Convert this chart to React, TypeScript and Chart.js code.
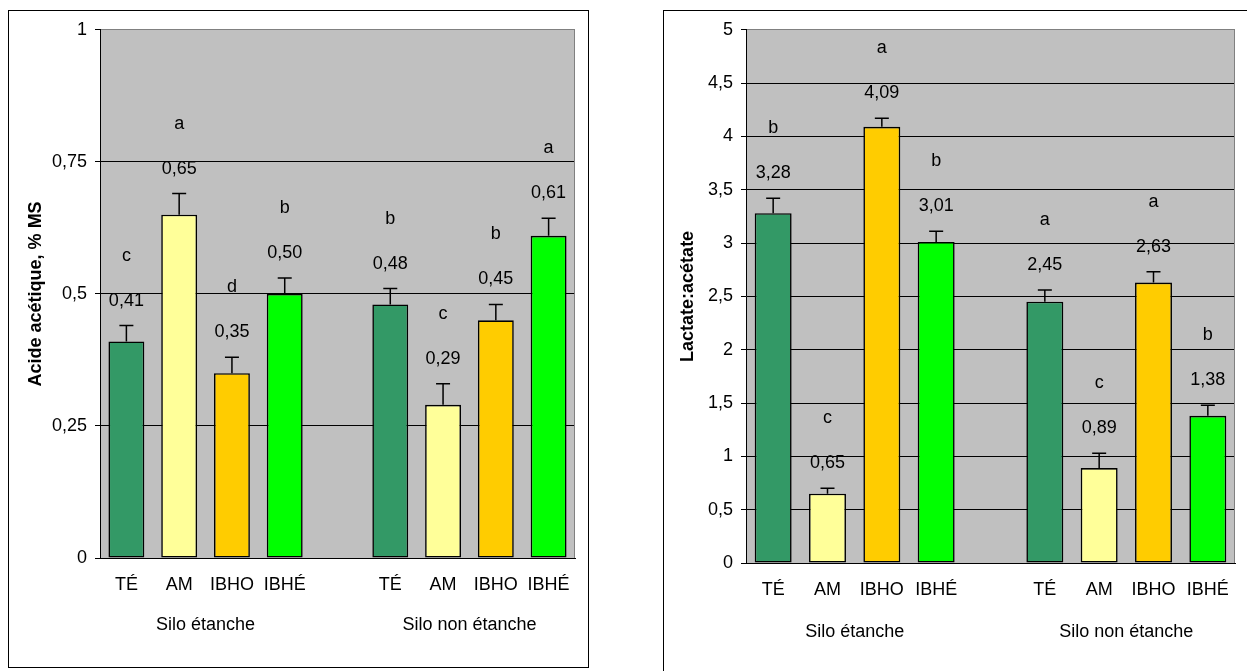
import React, { useEffect, useRef } from 'react';
import { Chart, registerables } from 'chart.js';

Chart.register(...registerables);

// ---------- data ----------
const categories = ['TÉ', 'AM', 'IBHO', 'IBHÉ'];
const groupLabels = ['Silo étanche', 'Silo non étanche'];
const barColors = ['#339966', '#FFFF99', '#FFCC00', '#00FF00'];

const aceticEtanche = [0.41, 0.65, 0.35, 0.5];
const aceticNonEtanche = [0.48, 0.29, 0.45, 0.61];
const aceticErrEtanche = [0.03, 0.04, 0.03, 0.03];
const aceticErrNonEtanche = [0.03, 0.04, 0.03, 0.033];
const aceticLettersEtanche = ['c', 'a', 'd', 'b'];
const aceticLettersNonEtanche = ['b', 'c', 'b', 'a'];
const aceticTicks = [0, 0.25, 0.5, 0.75, 1];

const ratioEtanche = [3.28, 0.65, 4.09, 3.01];
const ratioNonEtanche = [2.45, 0.89, 2.63, 1.38];
const ratioErrEtanche = [0.14, 0.05, 0.08, 0.1];
const ratioErrNonEtanche = [0.11, 0.14, 0.1, 0.1];
const ratioLettersEtanche = ['b', 'c', 'a', 'b'];
const ratioLettersNonEtanche = ['a', 'c', 'a', 'b'];
const ratioTicks = [0, 0.5, 1, 1.5, 2, 2.5, 3, 3.5, 4, 4.5, 5];

// ---------- styling ----------
const FONT_FAMILY = '"Liberation Sans", Arial, Helvetica, sans-serif';
const FONT_SIZE = 18;

type ChartCfg = {
  etanche: number[];
  nonEtanche: number[];
  errEtanche: number[];
  errNonEtanche: number[];
  lettersEtanche: string[];
  lettersNonEtanche: string[];
  ticks: number[];
  title: string;
  titlePad: number;
  yAxisWidth: number;
  xAxisHeight: number;
  padTop: number;
  padRight: number;
  groupOffset: number;
};

const fmt = (v: number, digits?: number) =>
  (digits === undefined ? String(v) : v.toFixed(digits)).replace('.', ',');

function buildConfig(cfg: ChartCfg): any {
  const labels = [...categories, '', ...categories];
  const values = [...cfg.etanche, null, ...cfg.nonEtanche];
  const errs = [...cfg.errEtanche, null, ...cfg.errNonEtanche];
  const letters = [...cfg.lettersEtanche, '', ...cfg.lettersNonEtanche];
  const colors = [...barColors, 'rgba(0,0,0,0)', ...barColors];
  const yMin = cfg.ticks[0];
  const yMax = cfg.ticks[cfg.ticks.length - 1];

  const plugin = {
    id: 'decor',
    beforeDraw(chart: any) {
      const { ctx, chartArea: a } = chart;
      ctx.save();
      ctx.fillStyle = '#C0C0C0';
      ctx.fillRect(a.left, a.top, a.right - a.left, a.bottom - a.top);
      ctx.restore();
    },
    afterDraw(chart: any) {
      const { ctx, chartArea: a } = chart;
      const yScale = chart.scales.y;
      const xScale = chart.scales.x;
      // plot area border (right)
      ctx.save();
      ctx.strokeStyle = '#808080';
      ctx.lineWidth = 1;
      ctx.beginPath();
      ctx.moveTo(Math.round(a.right) - 0.5, a.top);
      ctx.lineTo(Math.round(a.right) - 0.5, a.bottom);
      ctx.stroke();
      ctx.restore();

      const meta = chart.getDatasetMeta(0);
      ctx.save();
      ctx.font = `${FONT_SIZE}px ${FONT_FAMILY}`;
      ctx.fillStyle = '#000';
      ctx.textAlign = 'center';
      ctx.textBaseline = 'middle';
      meta.data.forEach((bar: any, i: number) => {
        const v = values[i];
        const e = errs[i];
        if (v === null || e === null) return;
        const x = bar.x;
        const yTop = yScale.getPixelForValue(v);
        const yCap = yScale.getPixelForValue(v + e);
        ctx.strokeStyle = '#000';
        ctx.lineWidth = 1.5;
        ctx.beginPath();
        ctx.moveTo(x, yTop);
        ctx.lineTo(x, yCap);
        ctx.moveTo(x - 7, yCap);
        ctx.lineTo(x + 7, yCap);
        ctx.stroke();
        const yVal = yCap - 25;
        ctx.fillText(fmt(v, 2), x, yVal);
        ctx.fillText(letters[i], x, yVal - 45);
      });
      // group labels
      const g1 = xScale.getPixelForValue(1.5);
      const g2 = xScale.getPixelForValue(6.5);
      ctx.fillText(groupLabels[0], g1, a.bottom + cfg.groupOffset);
      ctx.fillText(groupLabels[1], g2, a.bottom + cfg.groupOffset);
      ctx.restore();
    },
  };

  return {
    type: 'bar',
    data: {
      labels,
      datasets: [
        {
          data: values,
          backgroundColor: colors,
          borderColor: '#000',
          borderWidth: 1.6,
          borderSkipped: false,
          barPercentage: 0.68,
          categoryPercentage: 1,
        },
      ],
    },
    options: {
      responsive: false,
      animation: false,
      devicePixelRatio: 1,
      layout: { padding: { left: 0, top: cfg.padTop, right: cfg.padRight, bottom: 0 } },
      plugins: { legend: { display: false }, tooltip: { enabled: false } },
      scales: {
        x: {
          offset: true,
          grid: { display: false },
          border: { display: true, color: '#000', width: 1 },
          ticks: {
            color: '#000',
            font: { family: FONT_FAMILY, size: FONT_SIZE },
            padding: 8,
            maxRotation: 0,
            autoSkip: false,
          },
          afterFit: (s: any) => {
            s.height = cfg.xAxisHeight;
          },
        },
        y: {
          min: yMin,
          max: yMax,
          grid: {
            color: (c: any) => (c.tick && c.tick.value === yMax ? '#808080' : '#000'),
            tickColor: '#000',
            tickLength: 5,
            lineWidth: 1,
          },
          border: { display: true, color: '#000', width: 1 },
          ticks: {
            color: '#000',
            font: { family: FONT_FAMILY, size: FONT_SIZE },
            padding: 8,
            callback: (v: any) => fmt(Number(v)),
          },
          afterBuildTicks: (s: any) => {
            s.ticks = cfg.ticks.map((v) => ({ value: v }));
          },
          afterFit: (s: any) => {
            s.width = cfg.yAxisWidth;
          },
          title: {
            display: true,
            text: cfg.title,
            color: '#000',
            font: { family: FONT_FAMILY, size: FONT_SIZE, weight: 'bold' },
            padding: { top: cfg.titlePad, bottom: 0 },
          },
        },
      },
    },
    plugins: [plugin],
  };
}

function BarChart({ cfg, width, height }: { cfg: ChartCfg; width: number; height: number }) {
  const ref = useRef<HTMLCanvasElement>(null);
  useEffect(() => {
    const chart = new Chart(ref.current as HTMLCanvasElement, buildConfig(cfg));
    return () => chart.destroy();
  }, []);
  return (
    <canvas
      ref={ref}
      width={width}
      height={height}
      style={{ position: 'absolute', left: 0, top: 0, width, height }}
    />
  );
}

const leftCfg: ChartCfg = {
  etanche: aceticEtanche,
  nonEtanche: aceticNonEtanche,
  errEtanche: aceticErrEtanche,
  errNonEtanche: aceticErrNonEtanche,
  lettersEtanche: aceticLettersEtanche,
  lettersNonEtanche: aceticLettersNonEtanche,
  ticks: aceticTicks,
  title: 'Acide acétique, % MS',
  titlePad: 16,
  yAxisWidth: 91,
  xAxisHeight: 109,
  padTop: 16,
  padRight: 13,
  groupOffset: 67,
};

const rightCfg: ChartCfg = {
  etanche: ratioEtanche,
  nonEtanche: ratioNonEtanche,
  errEtanche: ratioErrEtanche,
  errNonEtanche: ratioErrNonEtanche,
  lettersEtanche: ratioLettersEtanche,
  lettersNonEtanche: ratioLettersNonEtanche,
  ticks: ratioTicks,
  title: 'Lactate:acétate',
  titlePad: 13,
  yAxisWidth: 82,
  xAxisHeight: 108,
  padTop: 16,
  padRight: 13,
  groupOffset: 69,
};

export default function App() {
  return (
    <div
      style={{
        position: 'absolute',
        left: 0,
        top: 0,
        width: 1247,
        height: 671,
        overflow: 'hidden',
        background: '#fff',
      }}
    >
      <div
        style={{
          position: 'absolute',
          left: 8,
          top: 10,
          width: 581,
          height: 658,
          boxSizing: 'border-box',
          border: '1px solid #000',
        }}
      >
        <BarChart cfg={leftCfg} width={579} height={656} />
      </div>
      <div
        style={{
          position: 'absolute',
          left: 663,
          top: 10,
          width: 600,
          height: 700,
          boxSizing: 'border-box',
          border: '1px solid #000',
        }}
      >
        <BarChart cfg={rightCfg} width={584} height={660} />
      </div>
    </div>
  );
}
